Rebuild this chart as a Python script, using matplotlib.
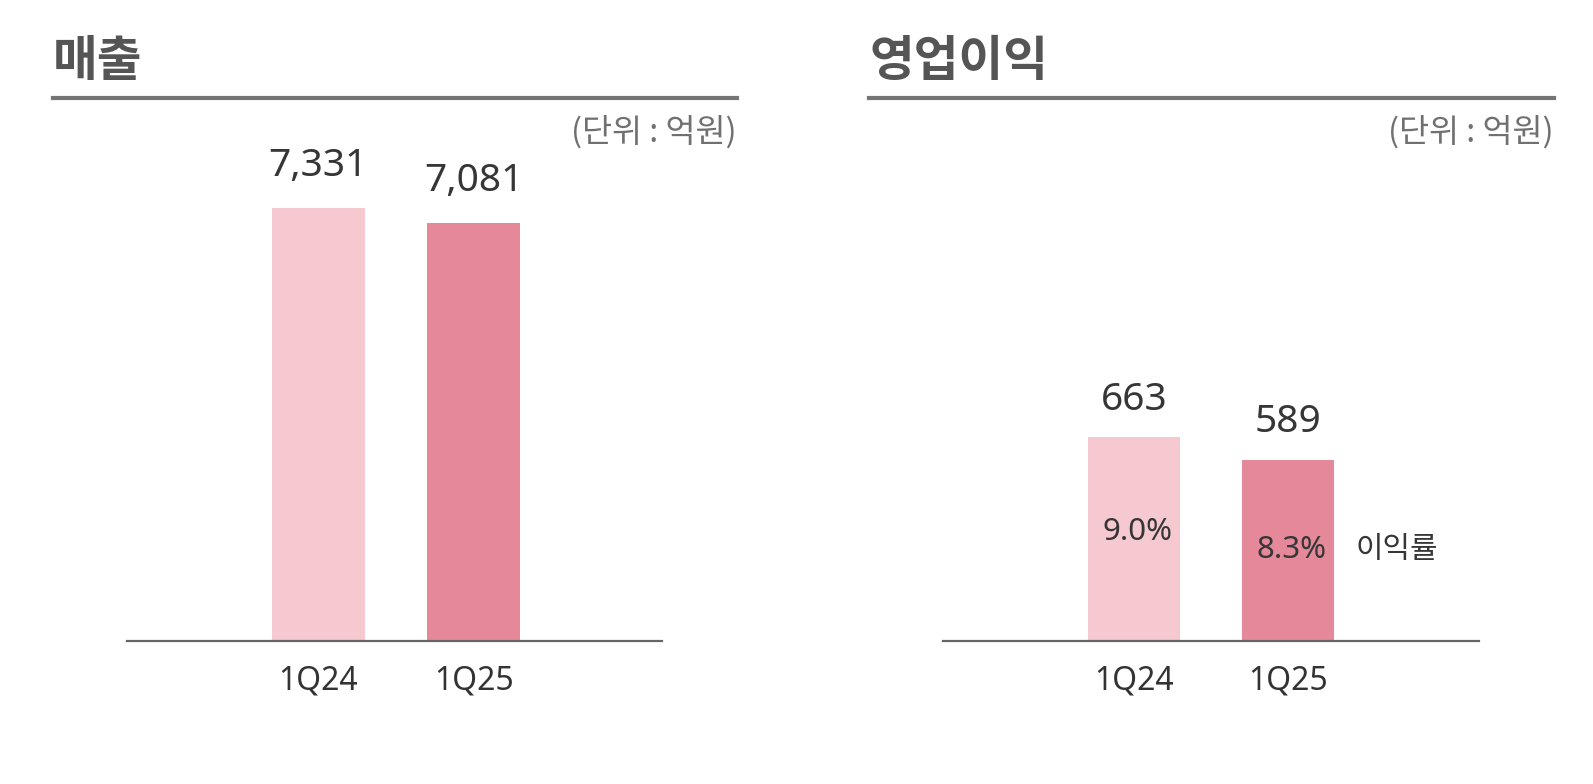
import matplotlib.pyplot as plt
from matplotlib.lines import Line2D

plt.rcParams['font.family'] = ['Noto Sans CJK KR', 'DejaVu Sans']
NUM_FONT = ['Noto Sans', 'Noto Sans CJK KR']

# data
quarters = ['1Q24', '1Q25']
sales = [7331, 7081]
op_profit = [663, 589]
op_margin = [9.0, 8.3]
bar_colors = ['#F6C8CF', '#E5899A']

W, H = 1593, 784
fig = plt.figure(figsize=(W / 100, H / 100), dpi=100)


def px_axes(x0, x1, y_top, y_bot):
    # axes placed by pixel box of the reference image
    return fig.add_axes([x0 / W, 1 - y_bot / H, (x1 - x0) / W, (y_bot - y_top) / H])


def panel_head(x0, x1, title):
    fig.text(x0 / W, 1 - 62 / H, title, fontsize=35, fontweight='bold',
             color='#555555', va='center', ha='left')
    fig.add_artist(Line2D([x0 / W, x1 / W], [1 - 97.5 / H, 1 - 97.5 / H],
                          color='#757575', lw=3.0, transform=fig.transFigure))
    fig.text(x1 / W, 1 - 132 / H, '(단위 : 억원)', fontsize=23.5, fontweight='light',
             color='#707070', va='center', ha='right')


def style_axes(ax):
    for s in ['top', 'right', 'left']:
        ax.spines[s].set_visible(False)
    ax.spines['bottom'].set_color('#666666')
    ax.spines['bottom'].set_linewidth(1.6)
    ax.set_yticks([])
    ax.set_xticks(range(len(quarters)))
    ax.set_xticklabels(quarters, fontsize=23, color='#333333', family=NUM_FONT)
    ax.tick_params(axis='x', length=0, pad=17)


def value_labels(ax, vals, off):
    for i, v in enumerate(vals):
        ax.annotate(f'{v:,}', (i, v), xytext=(0, off), textcoords='offset points',
                    ha='center', va='center', fontsize=28, color='#363636',
                    family=NUM_FONT, fontweight='medium')


# 매출
panel_head(53, 737, '매출')
ax1 = px_axes(127, 662, 150, 641)
ax1.bar(range(len(quarters)), sales, width=0.6, color=bar_colors)
ax1.set_xlim(-1.23, 2.21)
ax1.set_ylim(0, 8313)
style_axes(ax1)
value_labels(ax1, sales, 30)

# 영업이익
panel_head(869, 1554, '영업이익')
ax2 = px_axes(943, 1479, 150, 641)
ax2.bar(range(len(quarters)), op_profit, width=0.6, color=bar_colors)
ax2.set_xlim(-1.24, 2.24)
ax2.set_ylim(0, 1596)
style_axes(ax2)
value_labels(ax2, op_profit, 27)

# 이익률 on a hidden second scale
ax3 = ax2.twinx()
ax3.set_ylim(4.76, 23.86)
ax3.axis('off')
for i, m in enumerate(op_margin):
    ax3.text(i + 0.02, m, f'{m:.1f}%', ha='center', va='center', fontsize=22.5,
             color='#363636', family=NUM_FONT)
ax3.text(1.44, op_margin[1], '이익률', ha='left', va='center', fontsize=21.5, color='#363636')

fig.savefig('out.png', dpi=100)
